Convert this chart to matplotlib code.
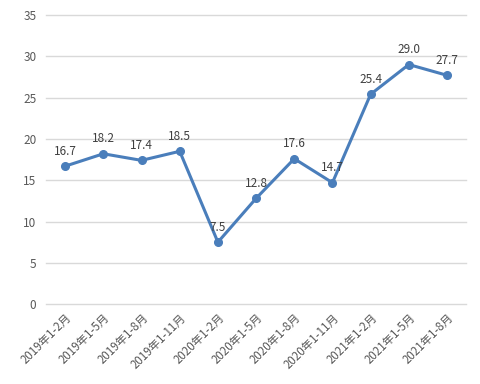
import matplotlib
matplotlib.use("Agg")
import matplotlib.pyplot as plt

plt.rcParams['font.family'] = ['Noto Sans CJK SC', 'DejaVu Sans']

categories = ["2019年1-2月", "2019年1-5月", "2019年1-8月", "2019年1-11月",
              "2020年1-2月", "2020年1-5月", "2020年1-8月", "2020年1-11月",
              "2021年1-2月", "2021年1-5月", "2021年1-8月"]
values = [16.7, 18.2, 17.4, 18.5, 7.5, 12.8, 17.6, 14.7, 25.4, 29.0, 27.7]
yticks = [0, 5, 10, 15, 20, 25, 30, 35]

fig = plt.figure(figsize=(4.8, 3.84), dpi=100)
ax = fig.add_axes([0.096, 0.208, 0.875, 0.753])

x = list(range(len(categories)))
ax.plot(x, values, color='#4a7ebb', linewidth=2.2, marker='o', markersize=5.5, zorder=3)
for xi, v in zip(x, values):
    ax.annotate(f"{v:.1f}", (xi, v), xytext=(0, 6), textcoords='offset points',
                ha='center', va='bottom', fontsize=8.5, color='#404040')

ax.set_xlim(-0.5, len(categories) - 0.5)
ax.set_ylim(0, 35)
ax.set_yticks(yticks)
ax.set_xticks(x)
ax.set_xticklabels(categories, rotation=45, ha='right', rotation_mode='anchor',
                   fontsize=8.3, color='#595959')
ax.tick_params(axis='y', labelsize=8.5, labelcolor='#595959', length=0, pad=7)
ax.tick_params(axis='x', length=0, pad=5)
ax.grid(axis='y', color='#d9d9d9', linewidth=1, clip_on=False)
ax.set_axisbelow(True)
for s in ax.spines.values():
    s.set_visible(False)

fig.savefig('out.png', dpi=100)
